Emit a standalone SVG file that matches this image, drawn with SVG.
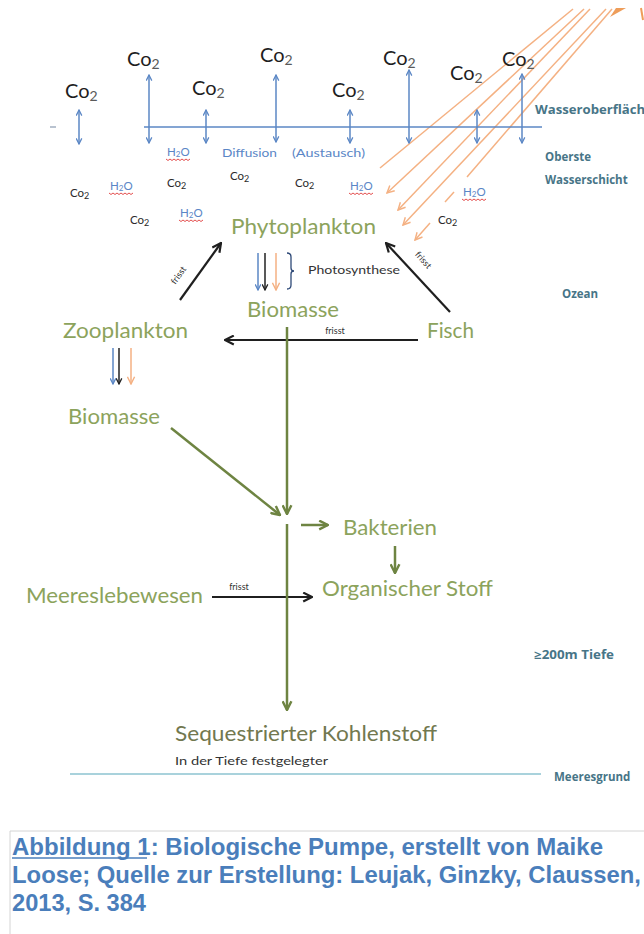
<svg xmlns="http://www.w3.org/2000/svg" width="644" height="934" viewBox="0 0 644 934">
<defs>
<style>
.co{font-family:Lato,"Open Sans",sans-serif;font-size:20px;fill:#1e1e1e}
.co .s{font-size:14px;fill:#5a5a5a}
.sc{font-family:Lato,"Open Sans",sans-serif;font-size:11.5px;fill:#2a2a2a}
.h2o{font-family:Lato,"Open Sans",sans-serif;font-size:11.5px;fill:#5a86c6}
.g{font-family:Lato,"Open Sans",sans-serif;font-size:22px;fill:#8ca35c}
.dk{fill:#72784f}
.side{font-family:"Open Sans",Lato,sans-serif;font-size:11.5px;font-weight:bold;fill:#477587}
.fr{font-family:Lato,"Open Sans",sans-serif;font-size:9px;fill:#333}
.ph{font-family:Lato,"Open Sans",sans-serif;font-size:12px;fill:#333}
.cap{font-family:"Liberation Sans",Arial,sans-serif;font-weight:bold;font-size:24px;fill:#4a7ebb}
.bl{stroke:#5b87c5;stroke-width:1.5;fill:none}
.bt{stroke:#222;stroke-width:1.5;fill:none}
.or{stroke:#f4b183;stroke-width:1.5;fill:none}
.bk{stroke:#1f1f1f;stroke-width:2.2;fill:none}
.gr{stroke:#6e8442;stroke-width:2.5;fill:none}
</style>
<marker id="mb" viewBox="0 0 10 10" refX="9" refY="5" markerWidth="7" markerHeight="7" markerUnits="userSpaceOnUse" orient="auto-start-reverse"><path d="M1,1 L9,5 L1,9" fill="none" stroke="#5b87c5" stroke-width="1.8"/></marker>
<marker id="mt" viewBox="0 0 10 10" refX="9" refY="5" markerWidth="7" markerHeight="7" markerUnits="userSpaceOnUse" orient="auto"><path d="M1,1 L9,5 L1,9" fill="none" stroke="#222" stroke-width="1.8"/></marker>
<marker id="mo" viewBox="0 0 10 10" refX="9" refY="5" markerWidth="9" markerHeight="9" markerUnits="userSpaceOnUse" orient="auto"><path d="M1,1 L9,5 L1,9" fill="none" stroke="#f4b183" stroke-width="1.6"/></marker>
<marker id="mk" viewBox="0 0 10 10" refX="9" refY="5" markerWidth="11" markerHeight="11" markerUnits="userSpaceOnUse" orient="auto"><path d="M1,1 L9,5 L1,9" fill="none" stroke="#1f1f1f" stroke-width="2"/></marker>
<marker id="mg" viewBox="0 0 10 10" refX="9" refY="5" markerWidth="11" markerHeight="11" markerUnits="userSpaceOnUse" orient="auto"><path d="M1,1 L9,5 L1,9" fill="none" stroke="#6e8442" stroke-width="2.2"/></marker>
<path id="sq" d="M0,0 l2,1.5 l2,-1.5 l2,1.5 l2,-1.5 l2,1.5 l2,-1.5 l2,1.5 l2,-1.5 l2,1.5 l2,-1.5 l2,1.5 l2,-1.5" fill="none" stroke="#e03a3a" stroke-width="0.9"/>
</defs>
<rect width="644" height="934" fill="#ffffff"/>

<g id="connectors">
  <!-- sun rays -->
  <path class="or" d="M573,9 L380,168"/>
  <path class="or" d="M584,9 L387,193" marker-end="url(#mo)"/>
  <path class="or" d="M590,9 L398,210" marker-end="url(#mo)"/>
  <path class="or" d="M606,9 L403,225" marker-end="url(#mo)"/>
  <path class="or" d="M612,9 L467,177"/>
  <path class="or" d="M454,192 L445,202"/>
  <path class="or" d="M430,223 L415,240" marker-end="url(#mo)"/>
  <polygon points="610,17 626,8 616,8" fill="#ee9d5a"/>
  <path d="M641,8 L643,20" stroke="#ee9d5a" stroke-width="2" fill="none"/>
  <!-- surface -->
  <line class="bl" x1="144" y1="127" x2="542" y2="127"/>
  <line x1="50" y1="127" x2="56" y2="127" stroke="#8a9bb0" stroke-width="1.2"/>
  <line class="bl" x1="79" y1="110" x2="79" y2="144" marker-start="url(#mb)" marker-end="url(#mb)"/>
  <line class="bl" x1="149" y1="75" x2="149" y2="143" marker-start="url(#mb)" marker-end="url(#mb)"/>
  <line class="bl" x1="206" y1="110" x2="206" y2="143" marker-start="url(#mb)" marker-end="url(#mb)"/>
  <line class="bl" x1="276" y1="75" x2="276" y2="142" marker-start="url(#mb)" marker-end="url(#mb)"/>
  <line class="bl" x1="350" y1="110" x2="350" y2="143" marker-start="url(#mb)" marker-end="url(#mb)"/>
  <line class="bl" x1="409" y1="70" x2="409" y2="143" marker-start="url(#mb)" marker-end="url(#mb)"/>
  <line class="bl" x1="477" y1="110" x2="477" y2="143" marker-start="url(#mb)" marker-end="url(#mb)"/>
  <line class="bl" x1="522" y1="74" x2="522" y2="143" marker-start="url(#mb)" marker-end="url(#mb)"/>
  <!-- photosynthesis arrows -->
  <line class="bl" x1="258" y1="253" x2="258" y2="290" marker-end="url(#mb)"/>
  <line class="bt" x1="265" y1="253" x2="265" y2="290" marker-end="url(#mt)"/>
  <line class="or" x1="276" y1="253" x2="276" y2="290" marker-end="url(#mo)"/>
  <path d="M287,253 q4,0 4,4 v11 q0,3 3,3 q-3,0 -3,3 v11 q0,4 -4,4" fill="none" stroke="#2f4a78" stroke-width="1.3"/>
  <!-- zooplankton arrows -->
  <line class="bl" x1="113" y1="348" x2="113" y2="384" marker-end="url(#mb)"/>
  <line class="bt" x1="119" y1="348" x2="119" y2="384" marker-end="url(#mt)"/>
  <line class="or" x1="131" y1="348" x2="131" y2="384" marker-end="url(#mo)"/>
  <!-- black frisst arrows -->
  <line class="bk" x1="180" y1="300" x2="221" y2="243" marker-end="url(#mk)"/>
  <line class="bk" x1="450" y1="312" x2="386" y2="243" marker-end="url(#mk)"/>
  <line class="bk" x1="418" y1="340" x2="225" y2="340" marker-end="url(#mk)"/>
  <line class="bk" x1="212" y1="597" x2="312" y2="597" stroke-width="1.8" marker-end="url(#mk)"/>
  <!-- green flow -->
  <line class="gr" x1="287" y1="327" x2="287" y2="514" marker-end="url(#mg)"/>
  <line class="gr" x1="171" y1="428" x2="280" y2="515" marker-end="url(#mg)"/>
  <line class="gr" x1="287" y1="524" x2="287" y2="710" marker-end="url(#mg)"/>
  <line class="gr" x1="301" y1="525" x2="328" y2="525" marker-end="url(#mg)"/>
  <line class="gr" x1="395" y1="546" x2="395" y2="573" marker-end="url(#mg)"/>
  <!-- sea floor -->
  <line x1="70" y1="774" x2="541" y2="774" stroke="#8cc3d1" stroke-width="1.5"/>
  <!-- frisst labels -->
  <text class="fr" text-anchor="middle" transform="translate(181,277) rotate(-54)">frisst</text>
  <text class="fr" text-anchor="middle" transform="translate(421,262) rotate(48)">frisst</text>
  <text class="fr" x="335" y="334" text-anchor="middle">frisst</text>
  <text class="fr" x="239" y="590" text-anchor="middle">frisst</text>
</g>

<g id="co2-air">
  <text class="co" x="65" y="98">Co<tspan class="s" dy="3">2</tspan></text>
  <text class="co" x="127" y="66">Co<tspan class="s" dy="3">2</tspan></text>
  <text class="co" x="192" y="95">Co<tspan class="s" dy="3">2</tspan></text>
  <text class="co" x="260" y="62">Co<tspan class="s" dy="3">2</tspan></text>
  <text class="co" x="332" y="97">Co<tspan class="s" dy="3">2</tspan></text>
  <text class="co" x="383" y="65">Co<tspan class="s" dy="3">2</tspan></text>
  <text class="co" x="450" y="80">Co<tspan class="s" dy="3">2</tspan></text>
  <text class="co" x="502" y="66">Co<tspan class="s" dy="3">2</tspan></text>
</g>

<g id="water-molecules">
  <text class="h2o" x="167" y="156">H<tspan font-size="8" dy="1">2</tspan><tspan dy="-1">O</tspan></text>
  <use href="#sq" x="166" y="159"/>
  <text class="h2o" x="222" y="157" textLength="55" lengthAdjust="spacingAndGlyphs">Diffusion</text>
  <text class="h2o" x="292" y="157" textLength="73" lengthAdjust="spacingAndGlyphs">(Austausch)</text>
  <text class="sc" x="70" y="197">Co<tspan font-size="9" dy="2">2</tspan></text>
  <text class="h2o" x="110" y="190">H<tspan font-size="8" dy="1">2</tspan><tspan dy="-1">O</tspan></text>
  <use href="#sq" x="109" y="193"/>
  <text class="sc" x="167" y="187">Co<tspan font-size="9" dy="2">2</tspan></text>
  <text class="sc" x="230" y="180">Co<tspan font-size="9" dy="2">2</tspan></text>
  <text class="sc" x="295" y="187">Co<tspan font-size="9" dy="2">2</tspan></text>
  <text class="h2o" x="350" y="190">H<tspan font-size="8" dy="1">2</tspan><tspan dy="-1">O</tspan></text>
  <use href="#sq" x="349" y="193"/>
  <text class="h2o" x="463" y="196">H<tspan font-size="8" dy="1">2</tspan><tspan dy="-1">O</tspan></text>
  <use href="#sq" x="462" y="199"/>
  <text class="sc" x="438" y="224">Co<tspan font-size="9" dy="2">2</tspan></text>
  <text class="sc" x="130" y="224">Co<tspan font-size="9" dy="2">2</tspan></text>
  <text class="h2o" x="180" y="217">H<tspan font-size="8" dy="1">2</tspan><tspan dy="-1">O</tspan></text>
  <use href="#sq" x="179" y="220"/>
</g>

<g id="zones">
  <text class="side" x="535" y="114" textLength="118" lengthAdjust="spacingAndGlyphs">Wasseroberfläche</text>
  <text class="side" x="545" y="161">Oberste</text>
  <text class="side" x="545" y="184">Wasserschicht</text>
  <text class="side" x="562" y="298">Ozean</text>
  <text class="side" x="534" y="659" textLength="80" lengthAdjust="spacingAndGlyphs">≥200m Tiefe</text>
  <text class="side" x="554" y="781">Meeresgrund</text>
</g>

<g id="phytoplankton"><text class="g" x="231" y="234" textLength="145" lengthAdjust="spacingAndGlyphs">Phytoplankton</text></g>
<g id="photosynthese"><text class="ph" x="308" y="274" textLength="92" lengthAdjust="spacingAndGlyphs">Photosynthese</text></g>
<g id="biomasse-phyto"><text class="g" x="247" y="317" textLength="92" lengthAdjust="spacingAndGlyphs">Biomasse</text></g>
<g id="zooplankton"><text class="g" x="63" y="338" textLength="125" lengthAdjust="spacingAndGlyphs">Zooplankton</text></g>
<g id="fisch"><text class="g" x="427" y="338" textLength="47" lengthAdjust="spacingAndGlyphs">Fisch</text></g>
<g id="biomasse-zoo"><text class="g" x="68" y="424" textLength="92" lengthAdjust="spacingAndGlyphs">Biomasse</text></g>
<g id="bakterien"><text class="g" x="343" y="535" textLength="94" lengthAdjust="spacingAndGlyphs">Bakterien</text></g>
<g id="organischer-stoff"><text class="g" x="322" y="596" textLength="171" lengthAdjust="spacingAndGlyphs">Organischer Stoff</text></g>
<g id="meereslebewesen"><text class="g" x="26" y="603" textLength="177" lengthAdjust="spacingAndGlyphs">Meereslebewesen</text></g>
<g id="sequestrierter-kohlenstoff">
  <text class="g dk" x="175" y="741" textLength="262" lengthAdjust="spacingAndGlyphs">Sequestrierter Kohlenstoff</text>
  <text class="ph" x="175" y="765" font-size="11" fill="#555" textLength="153" lengthAdjust="spacingAndGlyphs">In der Tiefe festgelegter</text>
</g>

<g id="caption">
  <line x1="10" y1="831" x2="644" y2="831" stroke="#d4d4d4" stroke-width="1"/>
  <line x1="10" y1="831" x2="10" y2="934" stroke="#d4d4d4" stroke-width="1"/>
  <text class="cap" x="12" y="855" textLength="591" lengthAdjust="spacingAndGlyphs">Abbildung 1: Biologische Pumpe, erstellt von Maike</text>
  <line x1="12" y1="858" x2="147" y2="858" stroke="#4a7ebb" stroke-width="1.6"/>
  <text class="cap" x="12" y="883" textLength="629" lengthAdjust="spacingAndGlyphs">Loose; Quelle zur Erstellung: Leujak, Ginzky, Claussen,</text>
  <text class="cap" x="12" y="911" textLength="134" lengthAdjust="spacingAndGlyphs">2013, S. 384</text>
</g>
</svg>
